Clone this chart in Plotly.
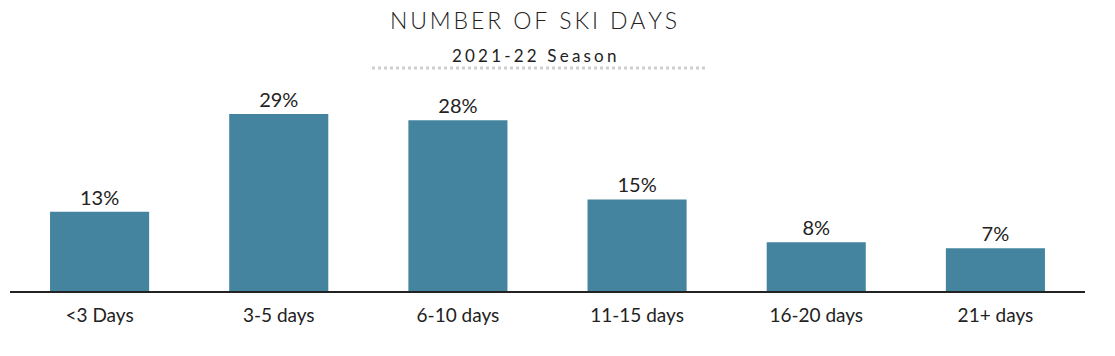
import plotly.graph_objects as go

categories = ["<3 Days", "3-5 days", "6-10 days", "11-15 days", "16-20 days", "21+ days"]
values = [13, 29, 28, 15, 8, 7]
labels = [f"{v}%" for v in values]

BAR = "#44849F"
FONT = "Lato"

def spaced(s, sep="\u200a"):
    return sep.join(s)

fig = go.Figure(go.Bar(
    x=categories, y=values, marker_color=BAR, marker_line_width=0,
    text=labels, textposition="outside", cliponaxis=False,
    textfont=dict(family=FONT, size=20, color="#222"),
))

plot_left, plot_right = 10, 1085
plot_top, plot_bottom = 75, 291
plot_h = plot_bottom - plot_top
plot_w = plot_right - plot_left

fig.update_layout(
    width=1115, height=356,
    margin=dict(l=plot_left, r=1115 - plot_right, t=plot_top, b=356 - plot_bottom),
    paper_bgcolor="white", plot_bgcolor="white",
    bargap=0.447, showlegend=False,
    xaxis=dict(showline=True, linecolor="#222", linewidth=1.5, ticks="",
               tickfont=dict(family=FONT, size=19, color="#222"),
               ticklabelstandoff=6, showgrid=False),
    yaxis=dict(visible=False, range=[0, 35.4], showgrid=False),
)

def ypaper(py):
    return (plot_bottom - py) / plot_h

def xpaper(px):
    return (px - plot_left) / plot_w

fig.add_annotation(text=spaced("NUMBER OF SKI DAYS", "\u2009"), x=xpaper(533), xref="paper",
                   y=ypaper(20), yref="paper", yanchor="middle", showarrow=False,
                   font=dict(family=FONT, size=23, color="#222", weight=300))
fig.add_annotation(text=spaced("2021-22 Season", "\u2009\u200a"), x=xpaper(534), xref="paper",
                   y=ypaper(56), yref="paper", yanchor="middle", showarrow=False,
                   font=dict(family=FONT, size=17, color="#222"))
fig.add_shape(type="line", xref="paper", yref="paper", x0=xpaper(372), x1=xpaper(708),
              y0=ypaper(68), y1=ypaper(68), line=dict(color="#cfcfcf", width=3, dash="dot"))

fig.write_html("out.html", config={"displayModeBar": False},
               post_script="document.body.style.margin='0';")
